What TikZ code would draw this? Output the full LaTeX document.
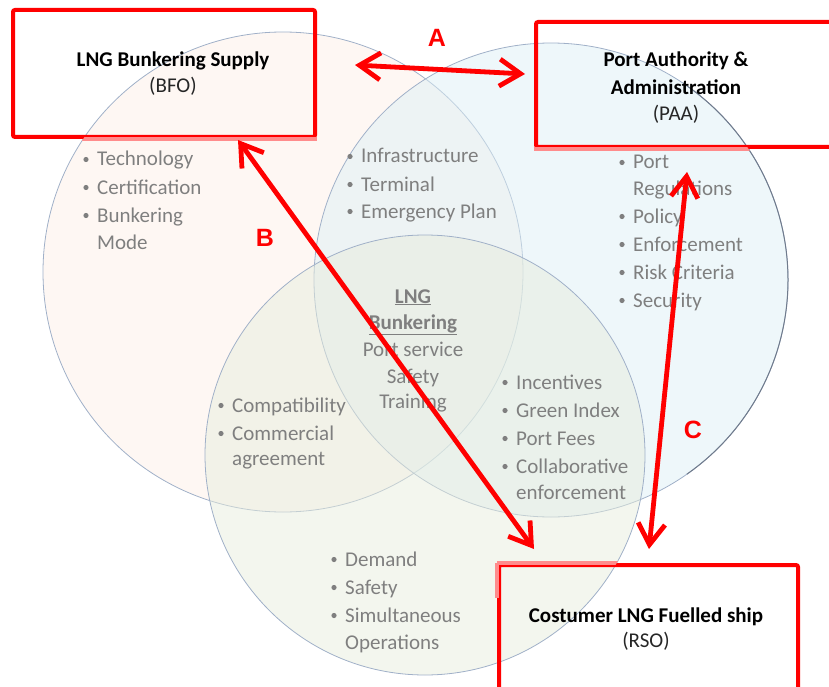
\documentclass[tikz,border=0pt]{standalone}
\usepackage{fontspec}
\setmainfont{Carlito}
\newfontfamily\labelfont{Liberation Sans}
\usetikzlibrary{positioning,arrows.meta,calc}
\definecolor{bfofill}{RGB}{253,240,232}
\definecolor{paafill}{RGB}{221,239,245}
\definecolor{rsofill}{RGB}{231,237,221}
\definecolor{ringline}{RGB}{160,176,200}
\definecolor{txtgray}{RGB}{127,127,127}
\definecolor{boxred}{RGB}{255,0,0}

\begin{document}
\begin{tikzpicture}[x=1pt,y=-1pt,
  ring/.style={draw=ringline, line width=0.8pt, fill opacity=0.5},
  partner/.style={draw=boxred, line width=4pt, rounded corners=2pt, inner sep=0pt},
  faded/.style={draw=boxred!45, line width=4pt},
  head/.style={font=\fontsize{21}{27}\selectfont, anchor=base, inner sep=0pt},
  item/.style={font=\fontsize{21}{28}\selectfont, text=txtgray, anchor=base west, inner sep=0pt},
  mid/.style={font=\fontsize{21}{28}\selectfont, text=txtgray, anchor=base, inner sep=0pt},
  link/.style={draw=boxred, line width=4.8pt, line cap=round,
    {Straight Barb[length=21pt,width=27pt]}-{Straight Barb[length=21pt,width=27pt]}},
  tag/.style={font=\labelfont\bfseries\fontsize{25}{25}\selectfont, text=boxred, inner sep=0pt}]
\useasboundingbox (0,0) rectangle (829,687);
\clip (0,0) rectangle (829,687);
% Three circles
\draw[ring, fill=bfofill] (283,272) circle (240pt);
\draw[ring, fill=paafill] (551,280) circle (237pt);
\draw[ring, fill=rsofill] (425,455) circle (220pt);
\draw[ringline!70!black, line width=1pt] (551,280) ++(-55:237pt) arc (-55:55:237pt);
% Partner boxes
\node[partner, minimum width=302pt, minimum height=127pt] (bfo) at (164,73.5) {};
\node[partner, minimum width=304pt, minimum height=125pt] (paa) at (688,84.5) {};
\node[partner, minimum width=299pt, minimum height=140pt] (rso) at (648.5,635) {};
% Box edges seen through the circles
\begin{scope}
  \clip (283,272) circle (240pt);
  \draw[faded] (bfo.south west) -- (bfo.south east);
\end{scope}
\begin{scope}
  \clip (551,280) circle (237pt);
  \draw[faded] (paa.south west) -- (paa.south east);
\end{scope}
\begin{scope}
  \clip (425,455) circle (220pt);
  \draw[faded] (rso.north west) -- (rso.north east);
  \draw[faded] (rso.north west) -- ++(0,35);
\end{scope}
% Box titles
\node[head, font=\bfseries\fontsize{21}{27}\selectfont] (bfo-1) at (173,67) {LNG Bunkering Supply};
\node[head, text=black!85] (bfo-2) at (173,93) {(BFO)};
\node[head, font=\bfseries\fontsize{21}{27}\selectfont] (paa-1) at (676,67) {Port Authority \&};
\node[head, font=\bfseries\fontsize{21}{27}\selectfont] (paa-2) at (676,95) {Administration};
\node[head, text=black!85] (paa-3) at (676,121) {(PAA)};
\node[head, font=\bfseries\fontsize{21}{27}\selectfont] (rso-1) at (646,622) {Costumer LNG Fuelled ship};
\node[head, text=black!85] (rso-2) at (646,647) {(RSO)};
% BFO only
\foreach \y/\t [count=\i] in {166/Technology,194/Certification,222/Bunkering} {
  \node[item] (bfo-i\i) at (97,\y) {\t};
  \fill[txtgray] (86,\y-6.5) circle (2.6pt);
}
\node[item] (bfo-i4) at (97,249) {Mode};
% BFO and PAA
\foreach \y/\t [count=\i] in {163/Infrastructure,191/Terminal,218/Emergency Plan} {
  \node[item] (bp-\i) at (361,\y) {\t};
  \fill[txtgray] (350,\y-6.5) circle (2.6pt);
}
% PAA only
\node[item] (paa-i1) at (633,169) {Port};
\fill[txtgray] (622,162.5) circle (2.6pt);
\node[item] (paa-i2) at (633,195) {Regulations};
\foreach \y/\t [count=\i from 3] in {223/Policy,251/Enforcement,279/Risk Criteria,307/Security} {
  \node[item] (paa-i\i) at (633,\y) {\t};
  \fill[txtgray] (622,\y-6.5) circle (2.6pt);
}
% All three
\node[mid, font=\bfseries\fontsize{21}{28}\selectfont] (core-1) at (413,303) {\underline{LNG}};
\node[mid, font=\bfseries\fontsize{21}{28}\selectfont] (core-2) at (413,329) {\underline{Bunkering}};
\foreach \y/\t [count=\i from 3] in {356/Port service,383/Safety,408/Training}
  \node[mid] (core-\i) at (413,\y) {\t};
% BFO and RSO
\node[item] (br-1) at (232,412) {Compatibility};
\fill[txtgray] (221,405.5) circle (2.6pt);
\node[item] (br-2) at (232,440) {Commercial};
\fill[txtgray] (221,433.5) circle (2.6pt);
\node[item] (br-3) at (232,465) {agreement};
% PAA and RSO
\foreach \y/\t [count=\i] in {389/Incentives,417/Green Index,445/Port Fees,473/Collaborative} {
  \node[item] (pr-\i) at (516,\y) {\t};
  \fill[txtgray] (505,\y-6.5) circle (2.6pt);
}
\node[item] (pr-5) at (516,499) {enforcement};
% RSO only
\foreach \y/\t [count=\i] in {566/Demand,594/Safety,622/Simultaneous} {
  \node[item] (rso-i\i) at (345,\y) {\t};
  \fill[txtgray] (334,\y-6.5) circle (2.6pt);
}
\node[item] (rso-i4) at (345,649) {Operations};
% Relations A, B, C
\coordinate (bfo-a) at (355,65);
\coordinate (paa-a) at (525,74);
\coordinate (bfo-b) at (238,140);
\coordinate (rso-b) at (534,549);
\coordinate (paa-c) at (687,172);
\coordinate (rso-c) at (649,549);
\draw[link] (bfo-a) -- (paa-a);
\draw[link] (bfo-b) -- (rso-b);
\draw[link] (paa-c) -- (rso-c);
\node[tag] (tag-a) at (437,38) {A};
\node[tag] (tag-b) at (265,238) {B};
\node[tag] (tag-c) at (693,430) {C};
\end{tikzpicture}
\end{document}
